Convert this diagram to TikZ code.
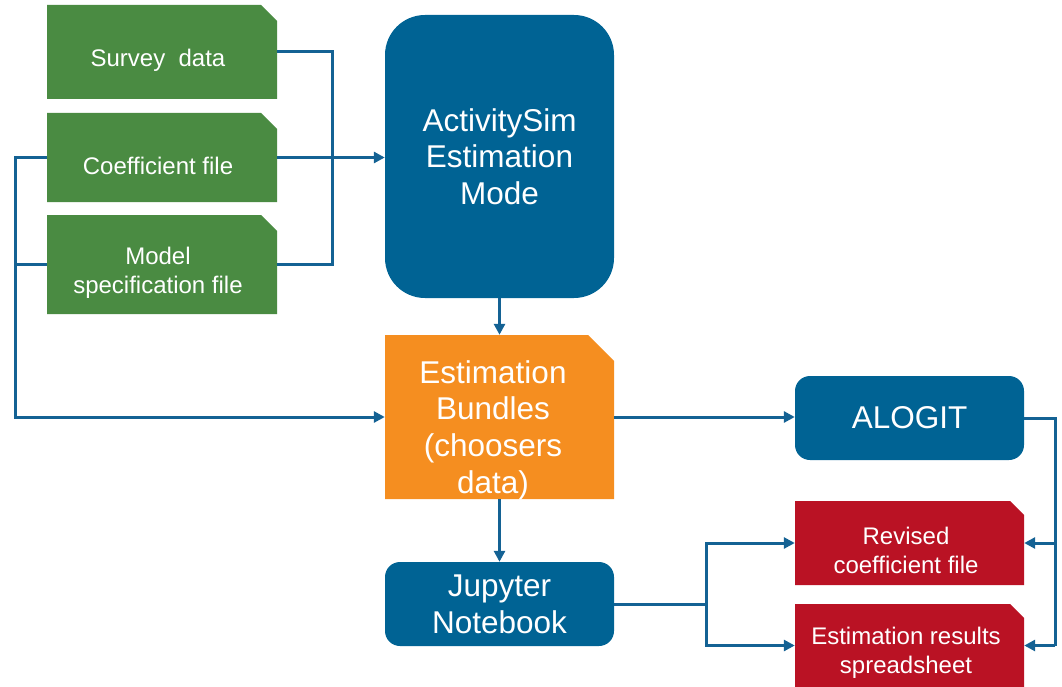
\documentclass[tikz,border=0pt]{standalone}
\usepackage{fontspec}
\setmainfont{Liberation Sans}
\usetikzlibrary{arrows.meta}
\definecolor{G}{RGB}{74,139,66}
\definecolor{B}{RGB}{0,99,148}
\definecolor{O}{RGB}{245,142,32}
\definecolor{R}{RGB}{186,18,36}
\definecolor{F}{RGB}{20,98,148}
\newcommand{\smalltext}{\fontsize{24}{29}\selectfont}
\newcommand{\bigtext}{\fontsize{31.5}{36.7}\selectfont}
\newcommand{\drawflow}{\draw[line width=3pt, F]}
\newcommand{\drawarrow}{\draw[line width=3pt, F, -{Triangle[length=11pt,width=11pt]}]}
\newcommand{\filebox}[9]{
    \fill[#2] (#3,#4)--(#5-#7,#4)--(#5,#4+#7)--(#5,#6)--(#3,#6)--cycle;
    \node[inner sep=0pt, minimum width={(#5-#3)*1pt}, minimum height={(#6-#4)*1pt}]
      (#1) at ({(#3+#5)/2},{(#4+#6)/2}) {};
    \node[text=white, align=center, inner sep=0pt, font=#8]
      (#1-t) at ([shift={(-#7/4,#7/2)}]#1.center) {#9};
}
\newcommand{\roundbox}[7]{
    \node[fill=B, text=white, align=center, inner sep=0pt, rounded corners=#6, font=\bigtext,
      minimum width={(#4-#2)*1pt}, minimum height={(#5-#3)*1pt}]
      (#1) at ({(#2+#4)/2},{(#3+#5)/2}) {#7};
}

\begin{document}
\begin{tikzpicture}[x=1pt, y=-1pt]
\useasboundingbox (0,0) rectangle (1062,687);
\filebox{survey}{G}{47}{5}{277}{99}{16}{\smalltext}{Survey\ \ data}
    \filebox{coef}{G}{47}{113}{277}{202}{16}{\smalltext}{Coefficient file}
    \filebox{spec}{G}{47}{215}{277}{314}{16}{\smalltext}{Model\\specification file}
    \filebox{bundles}{O}{385}{335}{614}{499}{26}{\bigtext}{Estimation\\Bundles\\(choosers\\data)}
    \filebox{revised}{R}{795}{501}{1024}{585}{14}{\smalltext}{Revised\\coefficient file}
    \filebox{results}{R}{795}{604}{1024}{687}{14}{\smalltext}{Estimation results\\spreadsheet}
\roundbox{asim}{385}{15}{614}{298}{40pt}{ActivitySim\\Estimation\\Mode}
    \roundbox{alogit}{795}{376}{1024}{460}{15pt}{ALOGIT}
    \roundbox{jupyter}{385}{562}{614}{646}{15pt}{Jupyter\\Notebook}
\coordinate (rail) at (15,417);
    \coordinate (rbus) at (1055,645.5);
    \coordinate (jbus) at (706,604);
\drawflow (survey.east) -- ++(55,0) |- (spec.east);
    \drawarrow (coef.east) -- (coef.east -| asim.west);
    \drawflow (spec.west) -- (spec.west -| rail);
    \drawarrow (coef.west) -| (rail) -- (bundles.west);
    \drawarrow (asim) -- (bundles);
    \drawarrow (bundles.east) -- (bundles.east -| alogit.west);
    \drawarrow (bundles) -- (jupyter);
    \drawflow (alogit.east) -| (rbus);
    \drawarrow (rbus |- revised.east) -- (revised.east);
    \drawarrow (rbus) -- (results.east);
    \drawflow (jupyter.east) -- (jbus);
    \drawarrow (jbus) |- (revised.west);
    \drawarrow (jbus) |- (results.west);
\end{tikzpicture}
\end{document}
